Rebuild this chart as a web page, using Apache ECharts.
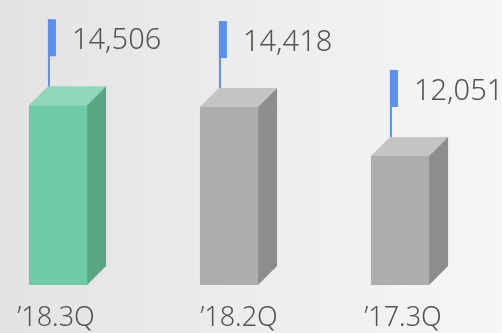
<!DOCTYPE html>
<html>
<head>
<meta charset="utf-8">
<script src="https://cdn.jsdelivr.net/npm/echarts@6/dist/echarts.min.js"></script>
<style>
  html, body { margin: 0; padding: 0; }
  #chart { width: 502px; height: 333px; }
</style>
</head>
<body>
<div id="chart"></div>
<script>
// Quarterly figures
const categories = ['\u201918.3Q', '\u201918.2Q', '\u201917.3Q'];
const values = [14506, 14418, 12051];
const highlighted = [true, false, false];

const Y_MIN = 5800;
const Y_MAX = 19000;

// Box faces: front, top, side
const GREEN = { front: '#6fcba6', top: '#8ed8b9', side: '#5aa583' };
const GREY = { front: '#adadad', top: '#c4c4c4', side: '#8d8d8d' };
const FLAG = '#5b8ff0';
const TEXT = '#545454';
const FONT = 'Noto Sans';

const DEPTH = 19;      // oblique depth of the box
const POLE = 67;       // flag pole length above the back edge
const FLAG_W = 8;
const FLAG_H = 37;

function fmt(n) {
  return String(n).replace(/\B(?=(\d{3})+(?!\d))/g, ',');
}

function renderBox(params, api) {
  const idx = api.value(0);
  const val = api.value(1);
  const top = api.coord([idx, val]);
  const base = api.coord([idx, Y_MIN]);
  const band = api.size([1, 0])[0];
  const w = band * 0.34;
  const d = DEPTH;
  const x0 = top[0] - w / 2;
  const x1 = top[0] + w / 2;
  const yT = top[1];
  const yB = base[1];
  const pal = highlighted[idx] ? GREEN : GREY;
  const poleX = x0 + d + 1;
  const poleTop = yT - d - POLE;
  return {
    type: 'group',
    children: [
      { type: 'rect', shape: { x: x0, y: yT, width: w, height: yB - yT },
        style: { fill: pal.front } },
      { type: 'polygon', shape: { points: [[x0, yT], [x1, yT], [x1 + d, yT - d], [x0 + d, yT - d]] },
        style: { fill: pal.top } },
      { type: 'polygon', shape: { points: [[x1, yT], [x1 + d, yT - d], [x1 + d, yB - d], [x1, yB]] },
        style: { fill: pal.side } },
      { type: 'line', shape: { x1: poleX, y1: yT - d, x2: poleX, y2: poleTop },
        style: { stroke: FLAG, lineWidth: 2 } },
      { type: 'rect', shape: { x: poleX - 1, y: poleTop, width: FLAG_W, height: FLAG_H },
        style: { fill: FLAG } },
      { type: 'text', x: poleX + 23, y: poleTop + FLAG_H / 2 + 3,
        style: { text: fmt(val), fill: TEXT, fontSize: 29, fontFamily: FONT, fontWeight: 300,
                 verticalAlign: 'middle', align: 'left' } }
    ]
  };
}

const labelStyle = { fontSize: 27, color: TEXT, fontFamily: FONT, fontWeight: 300 };

const chart = echarts.init(document.getElementById('chart'));
chart.setOption({
  animation: false,
  backgroundColor: {
    type: 'linear', x: 0, y: 0, x2: 1, y2: 0,
    colorStops: [{ offset: 0, color: '#e3e3e3' }, { offset: 1, color: '#f6f6f6' }]
  },
  grid: { left: 58, right: 102, top: 12.5, bottom: 48 },
  xAxis: {
    type: 'category',
    data: categories,
    boundaryGap: false,
    axisLine: { show: false },
    axisTick: { show: false },
    axisLabel: {
      interval: 0,
      hideOverlap: false,
      margin: 20,
      color: TEXT,
      fontSize: 27,
      fontFamily: FONT,
      fontWeight: 300,
      formatter: function (v, i) { return '{c' + i + '|' + v + '}'; },
      rich: {
        c0: Object.assign({ padding: [0, 4, 0, 0] }, labelStyle),
        c1: Object.assign({ padding: [0, 0, 0, 20] }, labelStyle),
        c2: Object.assign({ padding: [0, 0, 0, 6] }, labelStyle)
      }
    }
  },
  yAxis: { type: 'value', min: Y_MIN, max: Y_MAX, show: false, splitLine: { show: false } },
  series: [{
    type: 'custom',
    renderItem: renderBox,
    clip: false,
    data: values.map(function (v, i) { return [i, v]; }),
    encode: { x: 0, y: 1 }
  }]
});
</script>
</body>
</html>
